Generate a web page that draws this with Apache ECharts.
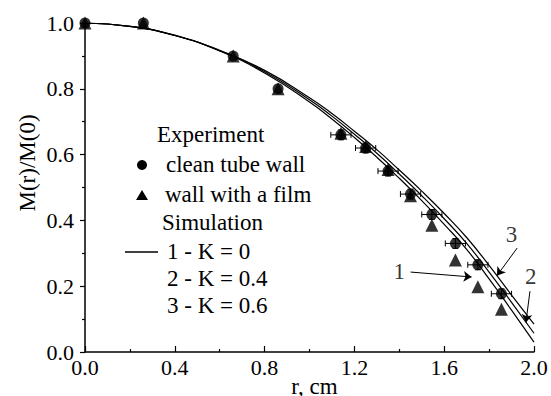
<!DOCTYPE html>
<html>
<head>
<meta charset="utf-8">
<script src="https://cdn.jsdelivr.net/npm/echarts/dist/echarts.min.js"></script>
<style>
    html, body { margin: 0; padding: 0; background: #fff; }
    #chart { width: 551px; height: 396px; }
</style>
</head>
<body>
<div id="chart"></div>
<script>
// clean tube wall (circles)
const circleX = [0, 0.26, 0.66, 0.86, 1.14, 1.25, 1.35, 1.45, 1.545, 1.65, 1.75, 1.855];
const circleY = [1.0, 1.0, 0.9, 0.80, 0.66, 0.62, 0.55, 0.48, 0.418, 0.33, 0.265, 0.177];
const circleXErr = [0, 0, 0, 0, 0.045, 0.045, 0.045, 0.045, 0.045, 0.045, 0.045, 0.045];
const circleYErr = [0, 0, 0, 0, 0.015, 0.015, 0.015, 0.015, 0.015, 0.015, 0.015, 0.015];

// wall with a film (triangles)
const triX = [0, 0.26, 0.66, 0.86, 1.14, 1.25, 1.35, 1.45, 1.545, 1.65, 1.75, 1.855];
const triY = [1.0, 1.0, 0.9, 0.80, 0.665, 0.625, 0.555, 0.475, 0.385, 0.28, 0.198, 0.13];

// simulation curves
const curveR = [0, 0.2, 0.4, 0.6, 0.8, 1.0, 1.1, 1.2, 1.3, 1.4, 1.5, 1.6, 1.7, 1.8, 1.9, 2.0];
const curveK0 = [1.000, 0.990, 0.962, 0.915, 0.848, 0.760, 0.708, 0.652, 0.592, 0.528, 0.460, 0.388, 0.312, 0.222, 0.127, 0.030];
const curveK04 = [1.000, 0.990, 0.962, 0.916, 0.852, 0.767, 0.717, 0.662, 0.604, 0.541, 0.475, 0.405, 0.330, 0.243, 0.151, 0.057];
const curveK06 = [1.000, 0.990, 0.963, 0.917, 0.856, 0.773, 0.725, 0.671, 0.615, 0.553, 0.489, 0.421, 0.348, 0.263, 0.173, 0.085];

// curve numbers and arrows
const noteText = ['1', '3', '2'];
const noteX = [1.40, 1.90, 1.985];
const noteY = [0.245, 0.356, 0.231];
const arrowFrom = [[1.45, 0.243], [1.925, 0.316], [1.982, 0.185]];
const arrowTo = [[1.722, 0.228], [1.835, 0.232], [1.964, 0.09]];

const xTicks = [0, 0.4, 0.8, 1.2, 1.6, 2.0];
const yTicks = [0, 0.2, 0.4, 0.6, 0.8, 1.0];

const FONT = 'Liberation Serif';

const chartDom = document.getElementById('chart');
// svg 渲染器, 字体由 CSS 解析
let myChart = echarts.init(chartDom, null, { renderer: 'svg' });

const pair = (xs, ys) => xs.map((x, i) => [x, ys[i]]);
const errData = circleX.map((x, i) => [x, circleY[i], circleXErr[i], circleYErr[i]]);

// error bars
const renderErr = (params, api) => {
    const x = api.value(0), y = api.value(1), dx = api.value(2), dy = api.value(3);
    if (!dx && !dy) return null;
    const l = api.coord([x - dx, y]);
    const r = api.coord([x + dx, y]);
    const t = api.coord([x, y + dy]);
    const b = api.coord([x, y - dy]);
    const cap = 3;
    const st = { stroke: '#000', lineWidth: 1 };
    return {
        type: 'group',
        children: [
            { type: 'line', shape: { x1: l[0], y1: l[1], x2: r[0], y2: r[1] }, style: st },
            { type: 'line', shape: { x1: l[0], y1: l[1] - cap, x2: l[0], y2: l[1] + cap }, style: st },
            { type: 'line', shape: { x1: r[0], y1: r[1] - cap, x2: r[0], y2: r[1] + cap }, style: st },
            { type: 'line', shape: { x1: t[0], y1: t[1], x2: b[0], y2: b[1] }, style: st },
            { type: 'line', shape: { x1: t[0] - cap, y1: t[1], x2: t[0] + cap, y2: t[1] }, style: st },
            { type: 'line', shape: { x1: b[0] - cap, y1: b[1], x2: b[0] + cap, y2: b[1] }, style: st }
        ]
    };
};

const curveStyle = { color: '#000', width: 1.2 };

// legend text, drawn as title blocks (y is the text middle)
const legendText = (text, x, y) => ({
    text: text, left: x, top: y - 12, padding: 0,
    textStyle: { fontFamily: FONT, fontSize: 23, fontWeight: 'normal', color: '#000' }
});

let option = {
    animation: false,
    backgroundColor: '#fff',
    textStyle: { fontFamily: FONT, color: '#000' },
    grid: { left: 85, right: 17, top: 23, bottom: 44, outerBoundsMode: 'none' },
    title: [
        legendText('Experiment', 157, 135),
        legendText('clean tube wall', 166, 165),
        legendText('wall with a film', 165, 195),
        legendText('Simulation', 162, 223),
        legendText('1 - K = 0', 167, 252),
        legendText('2 - K = 0.4', 167, 279),
        legendText('3 - K = 0.6', 167, 306)
    ],
    xAxis: {
        type: 'value',
        min: 0,
        max: 2,
        interval: 0.4,
        name: 'r, cm',
        nameLocation: 'middle',
        nameGap: 23,
        nameMoveOverlap: false,
        nameTextStyle: { fontFamily: FONT, fontSize: 23, color: '#000', padding: [0, 0, 0, 10] },
        axisLine: { lineStyle: { color: '#000', width: 1.5 } },
        axisTick: { inside: true, length: 6, lineStyle: { color: '#000', width: 1.2 } },
        minorTick: { show: true, splitNumber: 2, length: 3, lineStyle: { color: '#000', width: 1.2 } },
        splitLine: { show: false },
        axisLabel: {
            fontFamily: FONT, fontSize: 22, color: '#000', margin: 4,
            formatter: v => xTicks.some(t => Math.abs(t - v) < 1e-6) ? v.toFixed(1) : ''
        }
    },
    yAxis: {
        type: 'value',
        min: 0,
        max: 1,
        interval: 0.2,
        name: 'M(r)/M(0)',
        nameLocation: 'middle',
        nameRotate: 90,
        nameGap: 46,
        nameMoveOverlap: false,
        nameTextStyle: { fontFamily: FONT, fontSize: 23, color: '#000', padding: [0, 0, 0, 49] },
        axisLine: { show: true, lineStyle: { color: '#000', width: 1.5 } },
        axisTick: { show: true, inside: false, length: 5, lineStyle: { color: '#000', width: 1.2 } },
        minorTick: { show: true, splitNumber: 2, length: 3, lineStyle: { color: '#000', width: 1.2 } },
        splitLine: { show: false },
        axisLabel: {
            fontFamily: FONT, fontSize: 22, color: '#000', margin: 11,
            formatter: v => yTicks.some(t => Math.abs(t - v) < 1e-6) ? v.toFixed(1) : ''
        }
    },
    // legend symbols
    graphic: [
        { type: 'circle', shape: { cx: 142, cy: 165, r: 5 }, style: { fill: '#000' } },
        { type: 'polygon', shape: { points: [[142, 190], [148, 200], [136, 200]] }, style: { fill: '#000' } },
        { type: 'line', shape: { x1: 125, y1: 252, x2: 158, y2: 252 }, style: { stroke: '#000', lineWidth: 1.5 } }
    ],
    series: [
        {
            name: 'errors',
            type: 'custom',
            renderItem: renderErr,
            encode: { x: 0, y: 1 },
            data: errData,
            z: 2
        },
        {
            name: 'wall with a film',
            type: 'scatter',
            symbol: 'triangle',
            symbolSize: 13,
            itemStyle: { color: '#000' },
            data: pair(triX, triY),
            z: 3
        },
        {
            name: 'clean tube wall',
            type: 'scatter',
            symbol: 'circle',
            symbolSize: 11,
            itemStyle: { color: '#000' },
            data: pair(circleX, circleY),
            z: 3
        },
        {
            name: '1 - K = 0',
            type: 'line',
            smooth: true,
            showSymbol: false,
            lineStyle: curveStyle,
            data: pair(curveR, curveK0),
            z: 4,
            markLine: {
                silent: true,
                symbol: ['none', 'arrow'],
                symbolSize: 8,
                lineStyle: { color: '#000', width: 1, type: 'solid' },
                label: { show: false },
                data: arrowFrom.map((p, i) => [{ coord: p }, { coord: arrowTo[i] }])
            }
        },
        {
            name: '2 - K = 0.4',
            type: 'line',
            smooth: true,
            showSymbol: false,
            lineStyle: curveStyle,
            data: pair(curveR, curveK04),
            z: 4
        },
        {
            name: '3 - K = 0.6',
            type: 'line',
            smooth: true,
            showSymbol: false,
            lineStyle: curveStyle,
            data: pair(curveR, curveK06),
            z: 4
        },
        {
            name: 'notes',
            type: 'scatter',
            symbolSize: 0,
            silent: true,
            data: noteX.map((x, i) => ({ value: [x, noteY[i]], name: noteText[i] })),
            label: {
                show: true,
                position: 'inside',
                formatter: p => p.name,
                fontFamily: FONT,
                fontSize: 23,
                color: '#000'
            }
        }
    ]
};
myChart.setOption(option);
</script>
</body>
</html>
